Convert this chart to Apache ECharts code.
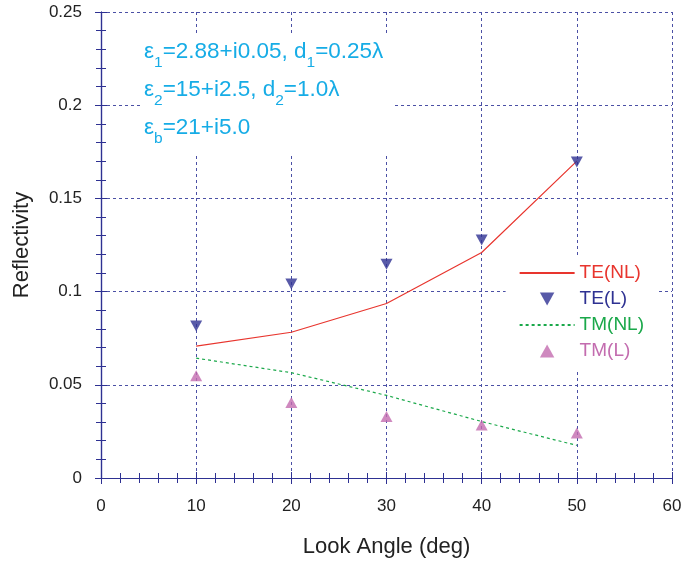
<!DOCTYPE html>
<html>
<head>
<meta charset="utf-8">
<script src="https://cdn.jsdelivr.net/npm/echarts@6/dist/echarts.min.js"></script>
<style>
  html, body { margin: 0; padding: 0; background: #fff; }
  #chart { width: 687px; height: 567px; }
</style>
</head>
<body>
<div id="chart"></div>
<script>
// data
const angles = [10, 20, 30, 40, 50]
const teNL = [0.0707, 0.0782, 0.0936, 0.121, 0.170]
const teL = [0.0816, 0.1041, 0.1147, 0.1277, 0.1695]
const tmNL = [0.0643, 0.0565, 0.0443, 0.0303, 0.0175]
const tmL = [0.0548, 0.0405, 0.033, 0.0284, 0.0241]

const seriesNames = ['TE(NL)', 'TE(L)', 'TM(NL)', 'TM(L)']
const colors = ['#e8352e', '#2e3192', '#1aa84a', '#c36caf']

const xTicks = { min: 0, max: 60, interval: 10 }
const yTicks = { min: 0, max: 0.25, interval: 0.05 }

const axisColor = '#2e3192'
const gridColor = '#4b50a5'
const fontFamily = 'Liberation Sans, Arial, sans-serif'
const textBlue = '#16ace6'

// legend icons: line only for curves, small triangles for the measured points
const downTri = 'path://M0,0L2,0L1,1.8Z'
const upTri = 'path://M1,0L2,1.8L0,1.8Z'

const pairs = (ys) => angles.map((a, i) => [a, ys[i]])

const chart = echarts.init(document.getElementById('chart'))

const baseAxis = {
  axisLine: { show: true, lineStyle: { color: axisColor, width: 1.2 } },
  axisTick: { show: true, inside: true, length: 6, lineStyle: { color: axisColor } },
  minorTick: { show: true, splitNumber: 5, length: 5, lineStyle: { color: axisColor } }
}

chart.setOption({
  animation: false,
  backgroundColor: '#fff',
  grid: { left: 101, right: 15, top: 12, bottom: 89 },
  xAxis: [
    Object.assign({}, baseAxis, {
      type: 'value', position: 'bottom',
      min: xTicks.min, max: xTicks.max, interval: xTicks.interval,
      name: 'Look Angle (deg)', nameLocation: 'middle', nameGap: 58,
      nameTextStyle: { fontSize: 22, color: '#222', fontFamily },
      axisLabel: { margin: 20, fontSize: 17, color: '#222', fontFamily },
      splitLine: { show: true, lineStyle: { color: gridColor, type: [3, 3], width: 1 } }
    }),
    Object.assign({}, baseAxis, {
      type: 'value', position: 'top',
      min: xTicks.min, max: xTicks.max, interval: xTicks.interval,
      axisLabel: { show: false }, splitLine: { show: false }
    })
  ],
  yAxis: [
    Object.assign({}, baseAxis, {
      type: 'value', position: 'left',
      min: yTicks.min, max: yTicks.max, interval: yTicks.interval,
      name: 'Reflectivity', nameLocation: 'middle', nameGap: 68,
      nameTextStyle: { fontSize: 22, color: '#222', fontFamily },
      axisLabel: { margin: 19, fontSize: 17, color: '#222', fontFamily,
        formatter: (v) => String(+v.toFixed(2)) },
      splitLine: { show: true, lineStyle: { color: gridColor, type: [3, 3], width: 1 } }
    }),
    Object.assign({}, baseAxis, {
      type: 'value', position: 'right',
      min: yTicks.min, max: yTicks.max, interval: yTicks.interval,
      axisLabel: { show: false }, splitLine: { show: false }
    })
  ],
  legend: {
    right: 30, top: 255,
    orient: 'vertical',
    backgroundColor: '#fff',
    padding: [8, 13, 8, 13],
    itemWidth: 55, itemHeight: 13, itemGap: 6,
    symbolRotate: 0,
    textStyle: { fontSize: 19, lineHeight: 20, fontFamily },
    data: [
      { name: seriesNames[0], textStyle: { color: colors[0] }, itemStyle: { opacity: 0 } },
      { name: seriesNames[1], textStyle: { color: colors[1] }, icon: downTri },
      { name: seriesNames[2], textStyle: { color: colors[2] }, itemStyle: { opacity: 0 } },
      { name: seriesNames[3], textStyle: { color: colors[3] }, icon: upTri }
    ],
    z: 5
  },
  graphic: [
    { type: 'rect', z: 1, shape: { x: 140, y: 35, width: 255, height: 120 }, style: { fill: '#fff' } },
    {
      type: 'text', z: 3, x: 144, y: 33,
      style: {
        text: [
          '{n|ε}{s|1}{n|=2.88+i0.05, d}{s|1}{n|=0.25λ}',
          '{n|ε}{s|2}{n|=15+i2.5, d}{s|2}{n|=1.0λ}',
          '{n|ε}{s|b}{n|=21+i5.0}'
        ].join('\n'),
        rich: {
          n: { fontSize: 22.5, lineHeight: 38, fill: textBlue, fontFamily },
          s: { fontSize: 15.5, lineHeight: 15, padding: [22, 0, 0, 0], fill: textBlue, fontFamily }
        }
      }
    }
  ],
  series: [
    { name: seriesNames[0], type: 'line', data: pairs(teNL), symbol: 'none', z: 3,
      itemStyle: { color: colors[0] }, lineStyle: { color: colors[0], width: 1.2 } },
    { name: seriesNames[1], type: 'scatter', data: pairs(teL), symbol: 'triangle', symbolRotate: 180,
      symbolSize: [12, 11], z: 4, itemStyle: { color: colors[1] } },
    { name: seriesNames[2], type: 'line', data: pairs(tmNL), symbol: 'none', z: 3,
      itemStyle: { color: colors[2] }, lineStyle: { color: colors[2], width: 1.2, type: [3, 3] } },
    { name: seriesNames[3], type: 'scatter', data: pairs(tmL), symbol: 'triangle',
      symbolSize: [12, 11], z: 4, itemStyle: { color: colors[3] } }
  ]
})
</script>
</body>
</html>
